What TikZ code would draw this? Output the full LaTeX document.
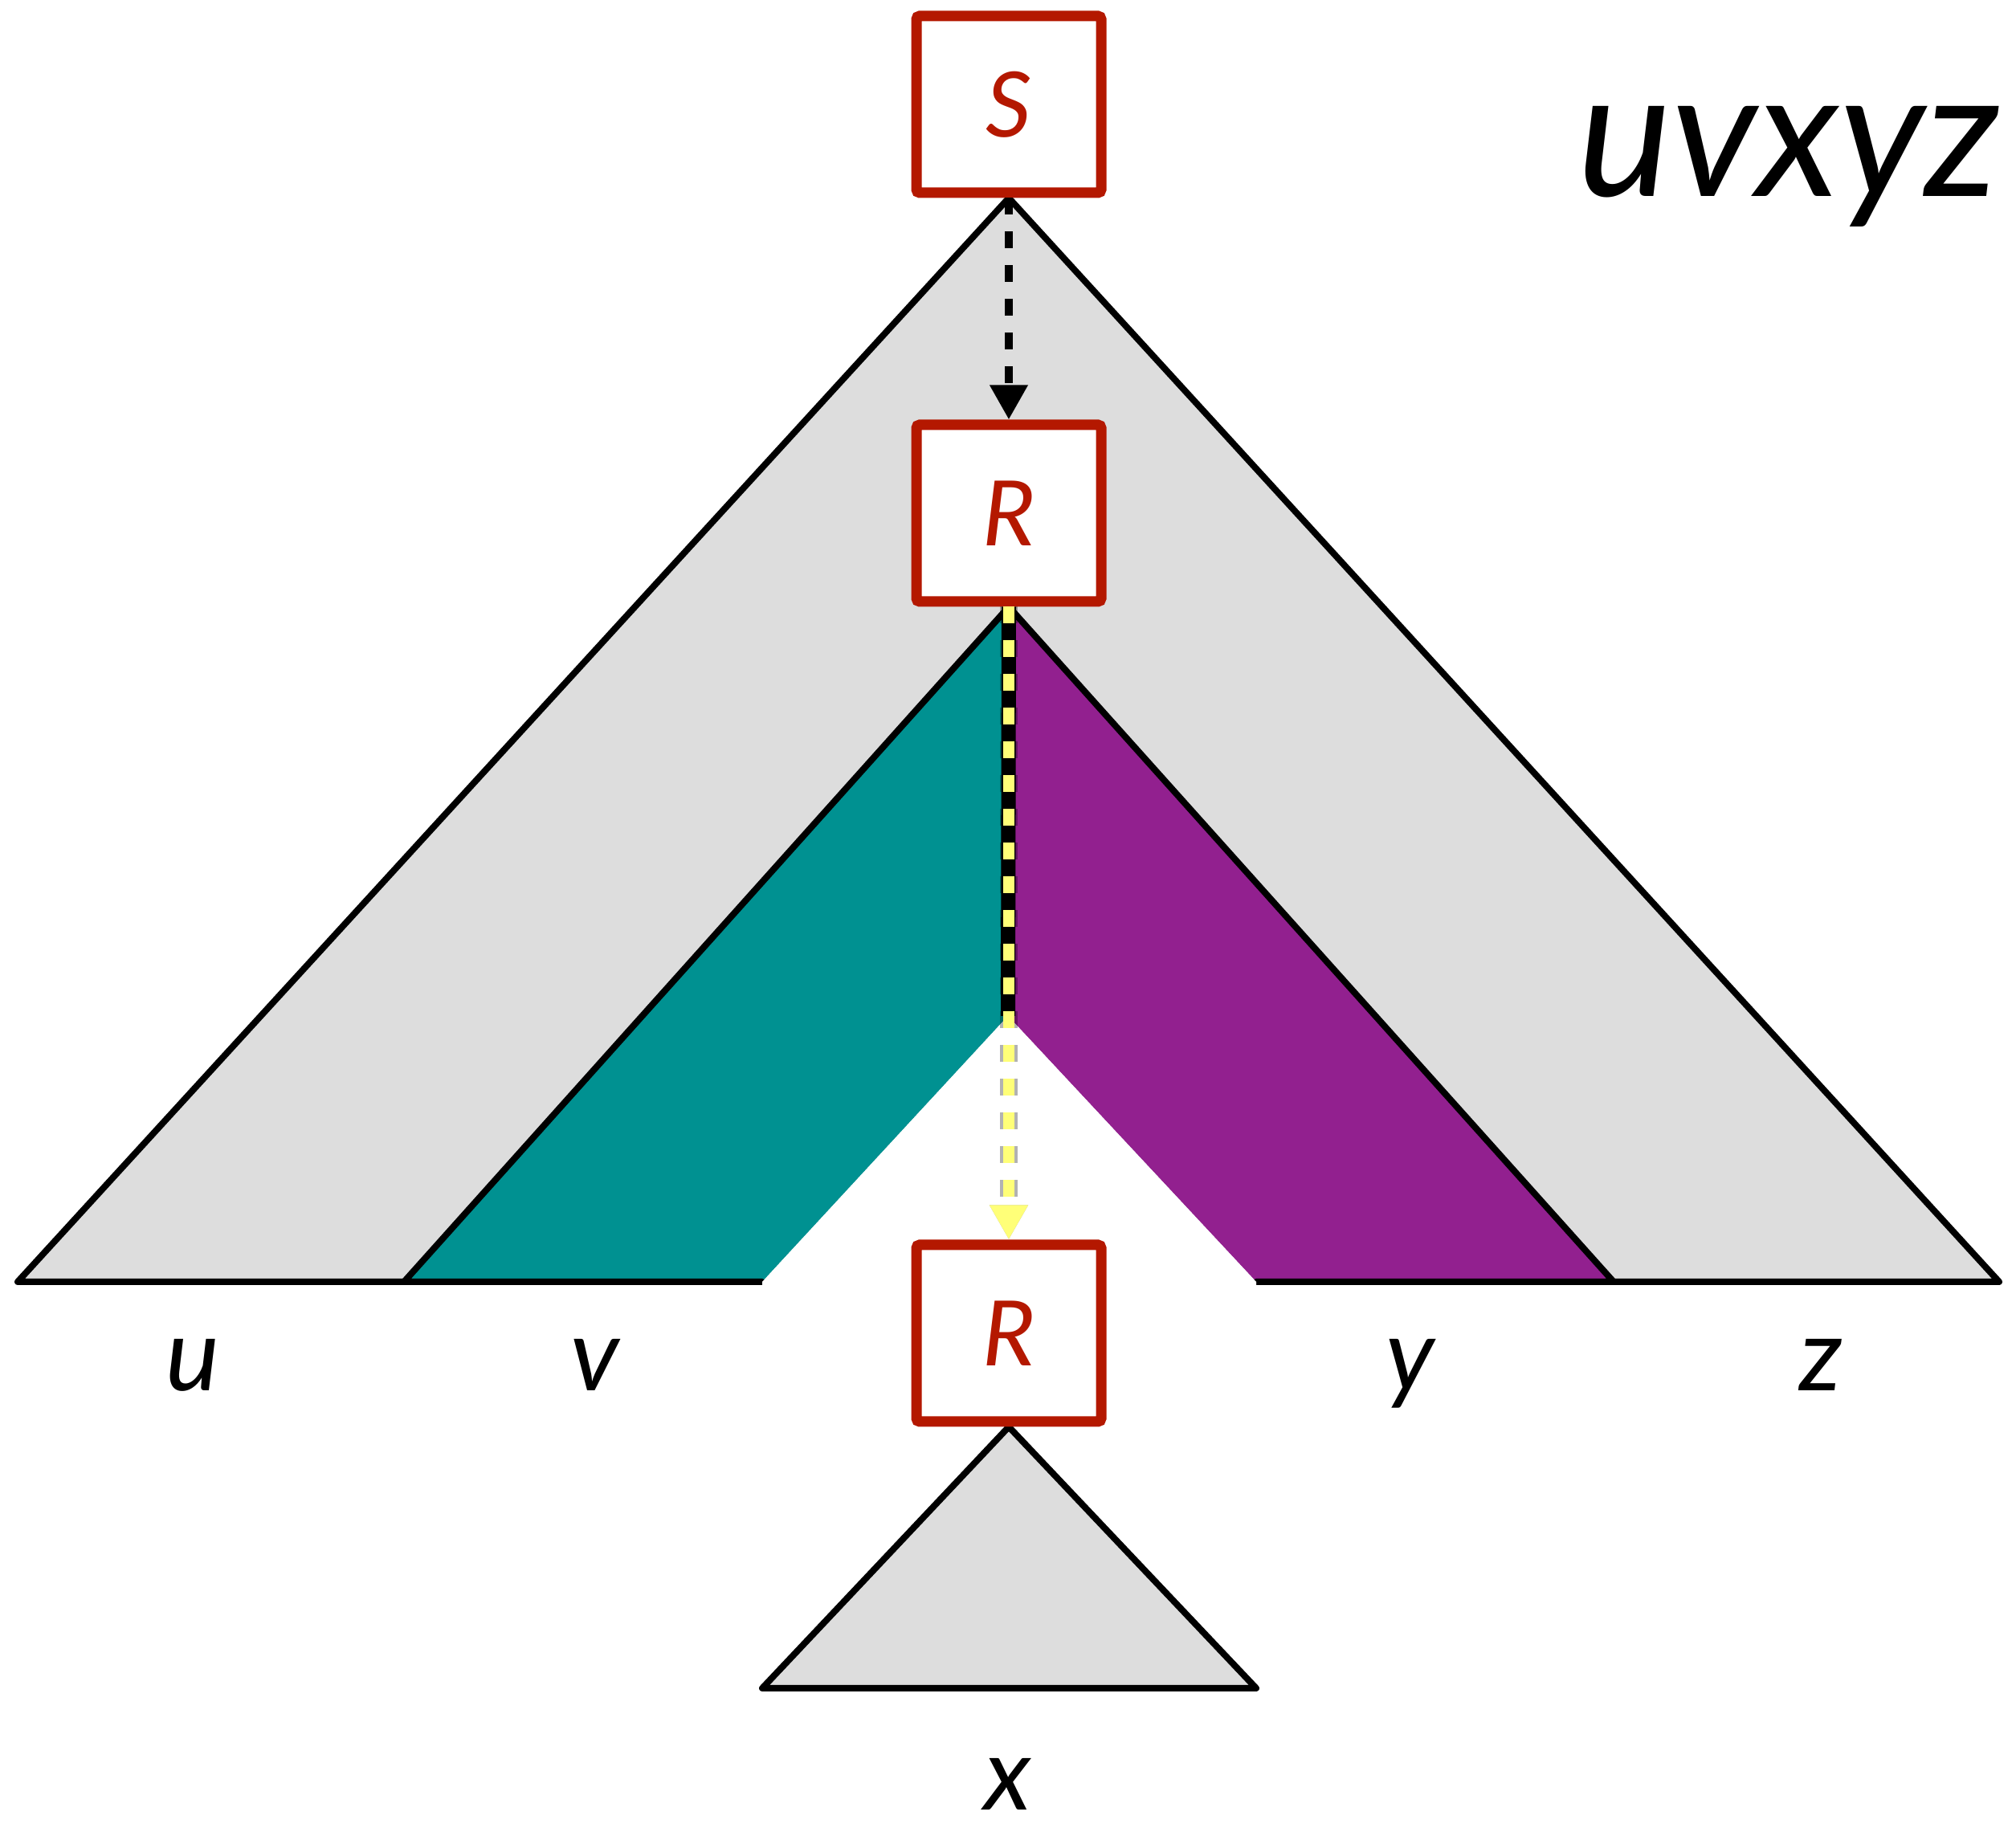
\documentclass[tikz,border=0pt]{standalone}
\usepackage{fontspec}
\setmainfont{Lato}
\usetikzlibrary{positioning}
\usetikzlibrary{arrows.meta, backgrounds}

\definecolor{boxred}{RGB}{180,24,0}
\definecolor{treegray}{RGB}{221,221,221}
\definecolor{vteal}{RGB}{0,145,145}
\definecolor{ypurple}{RGB}{146,32,143}
\definecolor{pumpyellow}{RGB}{255,255,120}

\begin{document}
\begin{tikzpicture}
\tikzset{
  sym/.style={draw=boxred, line width=0.13cm, fill=white, rounded corners=0.04cm,
    minimum width=2.3cm, minimum height=2.2cm, text=boxred,
    font=\itshape\fontsize{32}{32}\selectfont},
  part/.style={font=\itshape\fontsize{36}{36}\selectfont, anchor=base},
  edge/.style={line width=0.08cm, line join=round, line cap=round},
  derive/.style={line width=0.1cm, dash pattern=on 0.21cm off 0.21cm,
    -{Triangle[length=0.43cm,width=0.45cm]}},
}
\useasboundingbox (0,0) rectangle (25.10,22.76);
\node[sym] (S) at (12.56,21.46) {S};
\node[sym, below=2.76cm of S] (R1) {R};
\node[sym, below=7.88cm of R1] (R2) {R};
\coordinate (notch) at (12.55,10.11);

\begin{scope}[on background layer]
% whole tree
\filldraw[fill=treegray, edge] (S.south) -- (0.22,6.80) -- (24.89,6.80) -- cycle;
% v and y parts
\fill[vteal] (R1.south) -- (5.03,6.80) -- (9.49,6.80) -- (notch) -- cycle;
\fill[ypurple] (R1.south) -- (20.09,6.80) -- (15.64,6.80) -- (notch) -- cycle;
\draw[edge] (9.49,6.80) -- (5.03,6.80) -- (R1.south) -- (20.09,6.80) -- (15.64,6.80);
\fill[white] (9.49,6.80) -- (notch) -- (15.64,6.80) -- (15.64,6.65) -- (9.49,6.65) -- cycle;
\draw[line width=0.18cm] (R1.south) -- (notch);
% subtree for x
\filldraw[fill=treegray, edge] (R2.south) -- (9.49,1.74) -- (15.64,1.74) -- cycle;
\end{scope}

\draw[derive] (S.south) -- (R1.north);
\draw[derive, black, opacity=0.3, line width=0.22cm] (R1.south) -- (R2.north);
\draw[derive, pumpyellow, line width=0.14cm] (R1.south) -- (R2.north);

\node[part] (u) at (2.40,5.44) {u};
\node[part] (v) at (7.41,5.44) {v};
\node[part] (y) at (17.56,5.44) {y};
\node[part] (z) at (22.67,5.44) {z};
\node[part] (x) at (12.55,0.22) {x};
\node[font=\itshape\fontsize{63}{63}\selectfont, anchor=base west] (word) at (19.52,20.31) {uvxyz};
\end{tikzpicture}
\end{document}
